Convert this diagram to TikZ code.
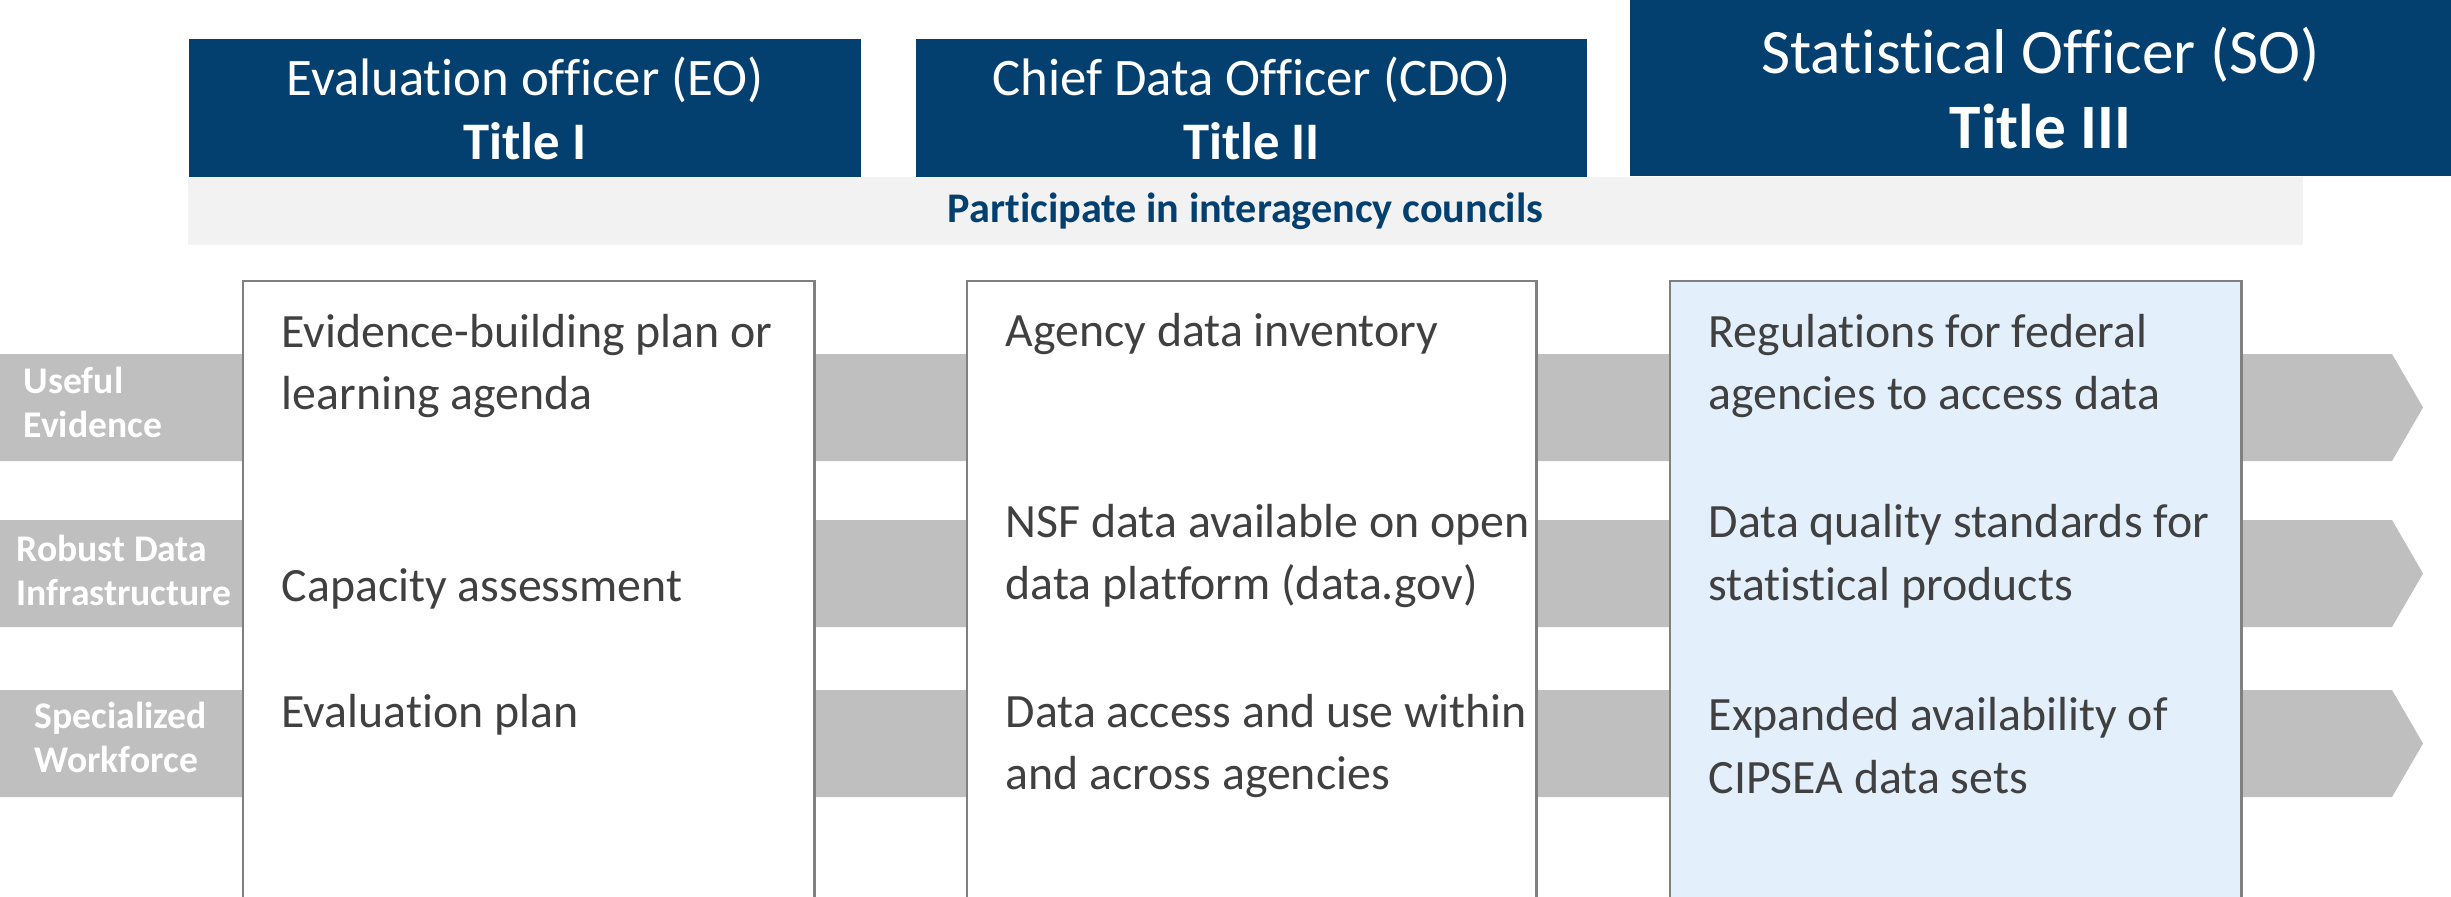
\documentclass[tikz,border=0pt]{standalone}
\usepackage{fontspec}
\setmainfont{Carlito}[Ligatures=NoCommon]
\usepackage{xcolor}
\usepackage{tikz}
\usetikzlibrary{positioning}

\definecolor{hdrblue}{HTML}{03406F}
\definecolor{bandgray}{HTML}{F2F2F2}
\definecolor{arrowgray}{HTML}{BFBFBF}
\definecolor{boxgray}{HTML}{808080}
\definecolor{textgray}{HTML}{404040}
\definecolor{solight}{HTML}{E3F0FB}

\begin{document}
\begin{tikzpicture}[x=0.01cm, y=-0.01cm,
    hdr/.style={fill=hdrblue, text=white, align=center, inner sep=0pt},
    colbox/.style={draw=boxgray, line width=0.7pt, fill=white, anchor=north west, inner sep=0pt, minimum height=7cm},
    rowarrow/.style={fill=arrowgray},
    rowlabel/.style={text=white, font=\bfseries\fontsize{10.7}{12.5}\selectfont, align=left, anchor=west, inner sep=0pt},
    itemtext/.style={text=textgray, font=\fontsize{13.6}{17.9}\selectfont, align=left, anchor=west, inner sep=0pt}]
            \clip (0,0) rectangle (2451,896);

            % Row arrows
            \foreach \y in {354, 520, 690}
                \fill[rowarrow] (0,\y) -- (2392,\y) -- (2423,\y+53.5) -- (2392,\y+107) -- (0,\y+107) -- cycle;

            % Row labels
            \node[rowlabel] (useful) at (23,402) {Useful\\Evidence};
            \node[rowlabel] (robust) at (16,570) {Robust Data\\Infrastructure};
            \node[rowlabel] (workforce) at (34,737) {Specialized\\Workforce};

            % Columns
            \node[colbox, minimum width=5.71cm] (eobox) at (242,280) {};
            \node[colbox, minimum width=5.69cm] (cdobox) at (966,280) {};
            \node[colbox, minimum width=5.71cm, fill=solight] (sobox) at (1669,280) {};

            % Council band
            \node[fill=bandgray, text=hdrblue, inner sep=0pt, minimum width=21.13cm, minimum height=0.68cm,
                  font=\bfseries\fontsize{12}{14}\selectfont] (council) at (1245.5,211) {Participate in interagency councils};

            % Headers
            \node[hdr, minimum width=6.72cm, minimum height=1.38cm, font=\fontsize{15}{18.2}\selectfont]
                (eo) at (525,108) {Evaluation officer (EO)\\\textbf{Title I}};
            \node[hdr, minimum width=6.71cm, minimum height=1.38cm, font=\fontsize{15}{18.2}\selectfont]
                (cdo) at (1251.5,108) {Chief Data Officer (CDO)\\\textbf{Title II}};
            \node[hdr, minimum width=8.21cm, minimum height=1.76cm, font=\fontsize{18}{21.3}\selectfont]
                (so) at (2040.5,88) {Statistical Officer (SO)\\\textbf{Title III}};

            % Title I items
            \node[itemtext] (ebp) at (281,366) {Evidence-building plan or\\learning agenda};
            \node[itemtext] (cap) at (281,589) {Capacity assessment};
            \node[itemtext] (evp) at (281,715) {Evaluation plan};

            % Title II items
            \node[itemtext] (inv) at (1005,334) {Agency data inventory};
            \node[itemtext] (nsf) at (1005,556) {NSF data available on open\\data platform (data.gov)};
            \node[itemtext] (acc) at (1005,746) {Data access and use within\\and across agencies};

            % Title III items
            \node[itemtext] (reg) at (1708,366) {Regulations for federal\\agencies to access data};
            \node[itemtext] (dqs) at (1708,556) {Data quality standards for\\statistical products};
            \node[itemtext] (cip) at (1708,746) {Expanded availability of\\CIPSEA data sets};
        \end{tikzpicture}
\end{document}
